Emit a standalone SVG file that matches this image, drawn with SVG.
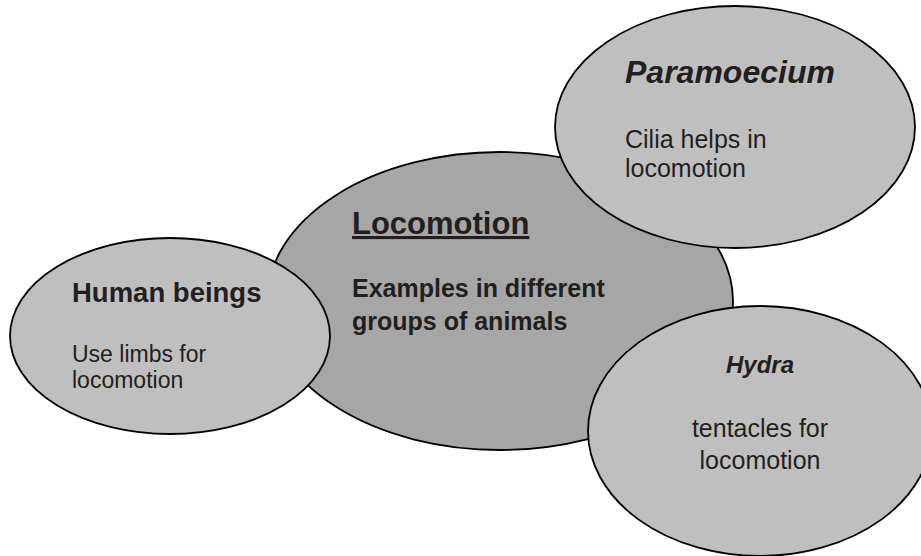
<svg xmlns="http://www.w3.org/2000/svg" width="921" height="556" viewBox="0 0 921 556">
<style>
.main{fill:#a6a6a6;stroke:#000;stroke-width:1.8}
.sub{fill:#bfbfbf;stroke:#000;stroke-width:1.8}
text{font-family:"Liberation Sans",Arial,sans-serif;fill:#231f20}
.b{font-weight:bold}
.bi{font-weight:bold;font-style:italic}
</style>
<rect width="921" height="556" fill="#fff"/>
<g id="connectors"></g>
<g id="locomotion">
<ellipse class="main" cx="500" cy="301" rx="233" ry="149"/>
<text x="352" y="234" class="b" font-size="31" text-decoration="underline">Locomotion</text>
<text x="352" y="297" class="b" font-size="25">Examples in different</text>
<text x="352" y="330" class="b" font-size="25">groups of animals</text>
</g>
<g id="human">
<ellipse class="sub" cx="170" cy="336" rx="160" ry="98"/>
<text x="72" y="302" class="b" font-size="27.5">Human beings</text>
<text x="72" y="362" font-size="23">Use limbs for</text>
<text x="72" y="388" font-size="23">locomotion</text>
</g>
<g id="paramoecium">
<ellipse class="sub" cx="735" cy="127" rx="180" ry="121"/>
<text x="625" y="83" class="bi" font-size="32">Paramoecium</text>
<text x="625" y="148" font-size="25">Cilia helps in</text>
<text x="625" y="177" font-size="25">locomotion</text>
</g>
<g id="hydra">
<ellipse class="sub" cx="760" cy="431" rx="172" ry="125"/>
<text x="760" y="373" class="bi" font-size="24" text-anchor="middle">Hydra</text>
<text x="760" y="437" font-size="25" text-anchor="middle">tentacles for</text>
<text x="760" y="469" font-size="25" text-anchor="middle">locomotion</text>
</g>
</svg>
